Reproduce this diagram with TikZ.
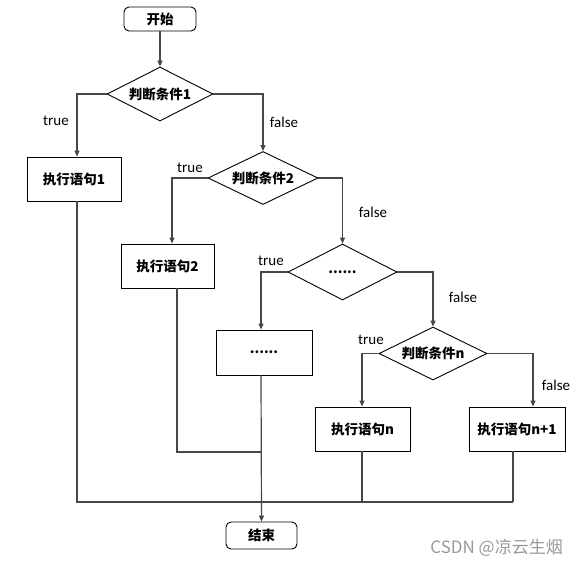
\documentclass[tikz,border=0pt]{standalone}
\usepackage{fontspec}
\setmainfont{Carlito}
\newfontfamily\cjk{Noto Sans CJK SC}
\usetikzlibrary{shapes.geometric,arrows.meta}
\tikzset{
  base/.style={draw=black, line width=0.9pt, inner sep=0pt, font=\cjk\bfseries\fontsize{13.5}{15}\selectfont},
  term/.style={base, rounded corners=5pt},
  proc/.style={base, rectangle},
  cond/.style={base, diamond, aspect=2},
  conn/.style={draw=black!72, line width=1.2pt},
  arr/.style={conn, -{Triangle[length=6pt,width=5pt]}},
  lbl/.style={font=\fontsize{15}{17}\selectfont, inner sep=0pt}
}
\begin{document}
\begin{tikzpicture}[x=1pt,y=-1pt]
\useasboundingbox (0,0) rectangle (577,566);
% nodes
\node[term, minimum width=72, minimum height=24] (start) at (160,19) {开始};
\node[cond, minimum width=106, minimum height=54] (d1) at (160,94) {判断条件1};
\node[proc, minimum width=94, minimum height=44] (b1) at (74,179) {执行语句1};
\node[cond, minimum width=110, minimum height=53] (d2) at (263,178) {判断条件2};
\node[proc, minimum width=93, minimum height=44] (b2) at (167.5,266) {执行语句2};
\node[cond, minimum width=109, minimum height=56] (d3) at (342.5,272) {......};
\node[proc, minimum width=96, minimum height=45] (b3) at (264,352.5) {......};
\node[cond, minimum width=108, minimum height=53] (d4) at (433,353.5) {判断条件n};
\node[proc, minimum width=95, minimum height=44] (bn) at (362.5,429) {执行语句n};
\node[proc, minimum width=96, minimum height=44] (bn1) at (517,429) {执行语句n+1};
\node[term, minimum width=71, minimum height=27] (end) at (261.5,535.5) {结束};
% labels
\node[lbl] (t1) at (56,121) {true};
\node[lbl] (f1) at (284,122) {false};
\node[lbl] (t2) at (190,168) {true};
\node[lbl] (f2) at (373,212) {false};
\node[lbl] (t3) at (271,261) {true};
\node[lbl] (f3) at (463,297) {false};
\node[lbl] (t4) at (371,340) {true};
\node[lbl] (f4) at (556,385) {false};
\node[font=\cjk\fontsize{17}{19}\selectfont, text=black!40, inner sep=0pt, anchor=east] (wm) at (563,548) {CSDN @凉云生烟};
% junction coordinates
\coordinate (bl) at (77,502);
\coordinate (br) at (513,502);
\coordinate (k2) at (261,452);
% connectors
\draw[arr] (start.south) -- (d1.north);
\draw[arr] (d1.west) -| ([xshift=3]b1.north);
\draw[arr] (d1.east) -| (d2.north);
\draw[arr] (d2.west) -| ([xshift=4.5]b2.north);
\draw[arr] (d2.east) -| (d3.north);
\draw[arr] (d3.west) -| ([xshift=-3]b3.north);
\draw[arr] (d3.east) -| (d4.north);
\draw[arr] (d4.west) -| ([xshift=-0.5]bn.north);
\draw[arr] (d4.east) -| ([xshift=16]bn1.north);
\draw[conn] ([xshift=3]b1.south) -- (bl) -- (br);
\draw[conn] ([xshift=-4]bn1.south) -- (br);
\draw[conn] ([xshift=-0.5]bn.south) -- ([xshift=-0.5]bn.south |- br);
\draw[conn] ([xshift=9.5]b2.south) |- (k2);
\draw[arr] ([xshift=-3]b3.south) -- (end.north);
\end{tikzpicture}
\end{document}
